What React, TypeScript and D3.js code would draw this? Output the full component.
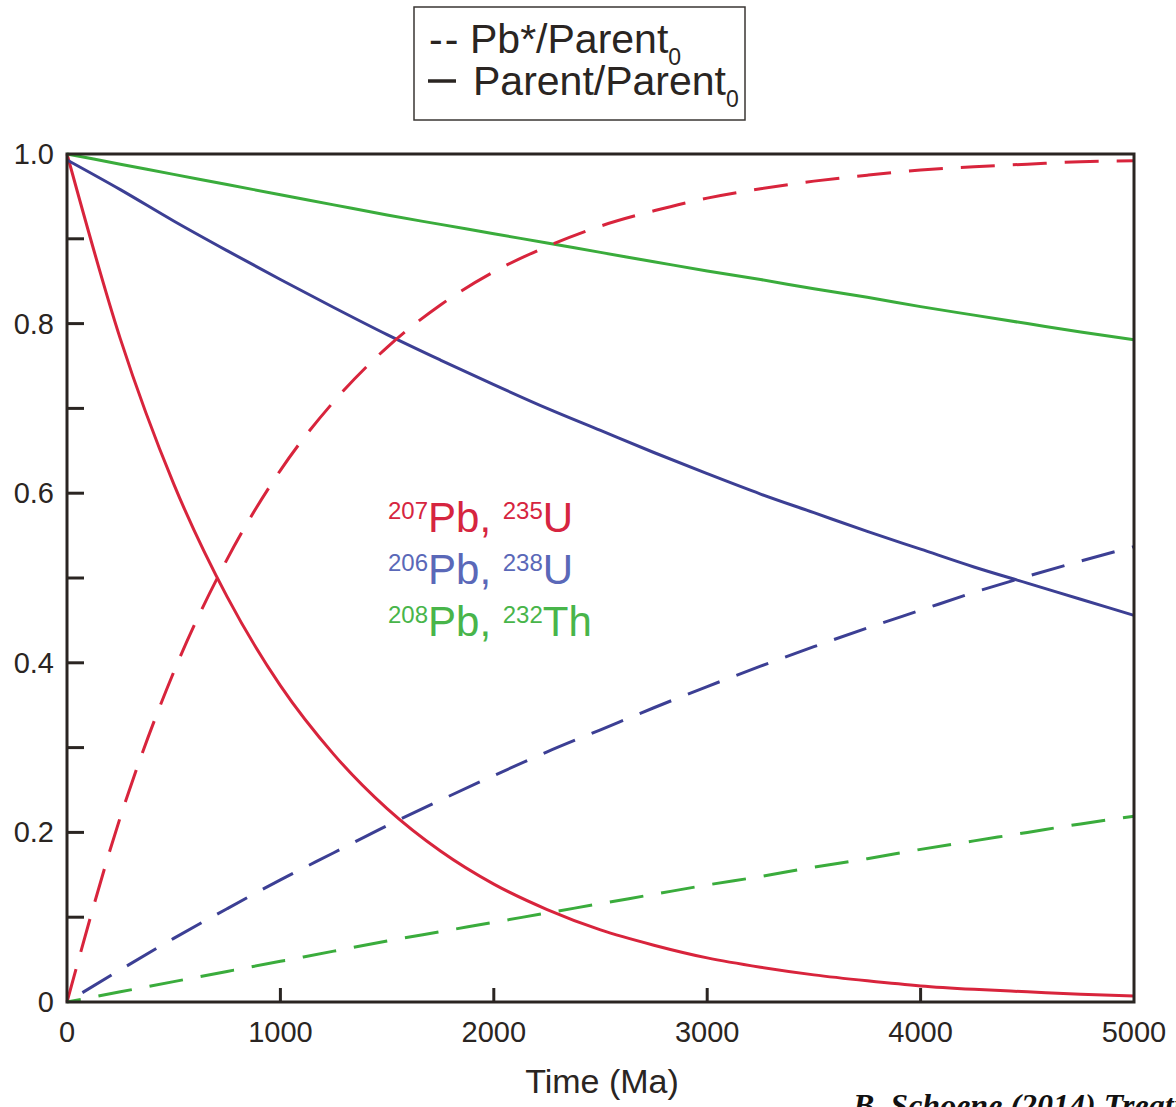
import { useEffect, useRef } from "react";
import * as d3 from "d3";

// time in Ma
const times = [0, 250, 500, 750, 1000, 1250, 1500, 1750, 2000, 2250, 2500, 2750, 3000, 3250, 3500, 3750, 4000, 4250, 4500, 4750, 5000];

// Parent/Parent0 (solid)
const u235Parent = [1.0, 0.782, 0.611, 0.478, 0.373, 0.292, 0.228, 0.178, 0.139, 0.109, 0.085, 0.067, 0.052, 0.041, 0.032, 0.025, 0.019, 0.015, 0.012, 0.009, 0.007];
const u238Parent = [0.993, 0.958, 0.921, 0.886, 0.852, 0.819, 0.787, 0.757, 0.728, 0.7, 0.674, 0.648, 0.623, 0.599, 0.577, 0.555, 0.534, 0.513, 0.494, 0.475, 0.456];
const th232Parent = [1.0, 0.988, 0.976, 0.964, 0.952, 0.94, 0.928, 0.917, 0.906, 0.895, 0.884, 0.873, 0.862, 0.852, 0.841, 0.831, 0.82, 0.81, 0.8, 0.79, 0.781];

// Pb*/Parent0 (dashed)
const pb207Daughter = [0, 0.218, 0.389, 0.522, 0.627, 0.708, 0.772, 0.822, 0.861, 0.891, 0.915, 0.933, 0.948, 0.959, 0.968, 0.975, 0.981, 0.985, 0.988, 0.991, 0.992];
const pb206Daughter = [0, 0.038, 0.075, 0.11, 0.144, 0.176, 0.208, 0.238, 0.267, 0.295, 0.321, 0.347, 0.372, 0.396, 0.419, 0.441, 0.462, 0.483, 0.502, 0.52, 0.537];
const pb208Daughter = [0, 0.012, 0.024, 0.036, 0.048, 0.06, 0.072, 0.083, 0.094, 0.105, 0.116, 0.127, 0.138, 0.148, 0.159, 0.169, 0.18, 0.19, 0.2, 0.21, 0.219];

const xTicks = [0, 1000, 2000, 3000, 4000, 5000];
const yTicks = [0, 0.1, 0.2, 0.3, 0.4, 0.5, 0.6, 0.7, 0.8, 0.9, 1.0];
const yLabels = ["0", "", "0.2", "", "0.4", "", "0.6", "", "0.8", "", "1.0"];

const RED = "#d8243c";
const BLUE = "#3c3f94";
const GREEN = "#3aac3c";
const INK = "#2a2522";

const series = [
  { values: u235Parent, color: RED, dashed: false, offset: 0 },
  { values: u238Parent, color: BLUE, dashed: false, offset: 0 },
  { values: th232Parent, color: GREEN, dashed: false, offset: 0 },
  { values: pb207Daughter, color: RED, dashed: true, offset: 0 },
  { values: pb206Daughter, color: BLUE, dashed: true, offset: 34 },
  { values: pb208Daughter, color: GREEN, dashed: true, offset: 20 },
];

const isotopeLabels = [
  { sup1: "207", el1: "Pb, ", sup2: "235", el2: "U", color: "#d62540" },
  { sup1: "206", el1: "Pb, ", sup2: "238", el2: "U", color: "#5a68b8" },
  { sup1: "208", el1: "Pb, ", sup2: "232", el2: "Th", color: "#48b54a" },
];

const App = () => {
  const ref = useRef<SVGSVGElement>(null);

  useEffect(() => {
    document.body.style.margin = "0";
    const width = 1176;
    const height = 1107;
    const left = 67, right = 1134, top = 154, bottom = 1002;

    const svg = d3.select(ref.current)
      .attr("width", width)
      .attr("height", height)
      .style("display", "block")
      .style("font-family", "'Liberation Sans', Arial, sans-serif");
    svg.selectAll("*").remove();

    const x = d3.scaleLinear().domain([0, 5000]).range([left, right]);
    const y = d3.scaleLinear().domain([0, 1]).range([bottom, top]);

    const line = d3.line<number>()
      .x((_, i) => x(times[i]))
      .y((d) => y(d))
      .curve(d3.curveMonotoneX);

    const g = svg.append("g");
    g.selectAll("path.curve")
      .data(series)
      .join("path")
      .attr("class", "curve")
      .attr("d", (d) => line(d.values))
      .attr("fill", "none")
      .attr("stroke", (d) => d.color)
      .attr("stroke-width", 3)
      .attr("stroke-dasharray", (d) => (d.dashed ? "34 18" : null))
      .attr("stroke-dashoffset", (d) => d.offset);

    // ticks inside the frame
    g.selectAll("line.ytick")
      .data(yTicks.slice(1, -1))
      .join("line")
      .attr("x1", left)
      .attr("x2", left + 17)
      .attr("y1", (d) => y(d))
      .attr("y2", (d) => y(d))
      .attr("stroke", INK)
      .attr("stroke-width", 3);

    g.selectAll("line.xtick")
      .data(xTicks.slice(1, -1))
      .join("line")
      .attr("x1", (d) => x(d))
      .attr("x2", (d) => x(d))
      .attr("y1", bottom)
      .attr("y2", bottom - 14)
      .attr("stroke", INK)
      .attr("stroke-width", 3);

    g.append("rect")
      .attr("x", left)
      .attr("y", top)
      .attr("width", right - left)
      .attr("height", bottom - top)
      .attr("fill", "none")
      .attr("stroke", INK)
      .attr("stroke-width", 3);

    g.selectAll("text.ylab")
      .data(yTicks)
      .join("text")
      .attr("x", 54)
      .attr("y", (d) => y(d) + 10)
      .attr("text-anchor", "end")
      .attr("font-size", 29)
      .attr("fill", INK)
      .text((_, i) => yLabels[i]);

    g.selectAll("text.xlab")
      .data(xTicks)
      .join("text")
      .attr("x", (d) => x(d))
      .attr("y", 1042)
      .attr("text-anchor", "middle")
      .attr("font-size", 29)
      .attr("fill", INK)
      .text((d) => String(d));

    g.append("text")
      .attr("x", 602)
      .attr("y", 1093)
      .attr("text-anchor", "middle")
      .attr("font-size", 34)
      .attr("fill", INK)
      .text("Time (Ma)");

    // isotope labels
    isotopeLabels.forEach((l, i) => {
      const t = g.append("text")
        .attr("x", 388)
        .attr("y", 532 + i * 52)
        .attr("fill", l.color);
      t.append("tspan").attr("font-size", 24).attr("dy", -13).text(l.sup1);
      t.append("tspan").attr("font-size", 42).attr("dy", 13).text(l.el1);
      t.append("tspan").attr("font-size", 24).attr("dy", -13).text(l.sup2);
      t.append("tspan").attr("font-size", 42).attr("dy", 13).text(l.el2);
    });

    // legend box
    const lg = svg.append("g");
    lg.append("rect")
      .attr("x", 414)
      .attr("y", 7)
      .attr("width", 331)
      .attr("height", 113)
      .attr("fill", "white")
      .attr("stroke", "#3a3633")
      .attr("stroke-width", 1.5);

    lg.append("text")
      .attr("x", 429)
      .attr("y", 53)
      .attr("font-size", 41)
      .attr("fill", INK)
      .attr("letter-spacing", 2)
      .text("--");
    lg.append("line")
      .attr("x1", 428)
      .attr("x2", 456)
      .attr("y1", 81)
      .attr("y2", 81)
      .attr("stroke", INK)
      .attr("stroke-width", 3.5);

    const legendRows = [
      { label: "Pb*/Parent", lx: 470, y: 53 },
      { label: "Parent/Parent", lx: 473, y: 95 },
    ];
    legendRows.forEach((r) => {
      const t = lg.append("text")
        .attr("x", r.lx)
        .attr("y", r.y)
        .attr("font-size", 41)
        .attr("fill", INK);
      t.append("tspan").text(r.label);
      t.append("tspan").attr("font-size", 23).attr("dy", 12).text("0");
    });

    // source note, cut off by page edge
    svg.append("text")
      .attr("x", 853)
      .attr("y", 1116)
      .attr("font-family", "'Liberation Serif', 'Times New Roman', serif")
      .attr("font-style", "italic")
      .attr("font-weight", "bold")
      .attr("font-size", 32)
      .attr("fill", "#111")
      .text("B. Schoene (2014) Treatise on Geochemistry");
  }, []);

  return <svg ref={ref}></svg>;
};

export default App;
